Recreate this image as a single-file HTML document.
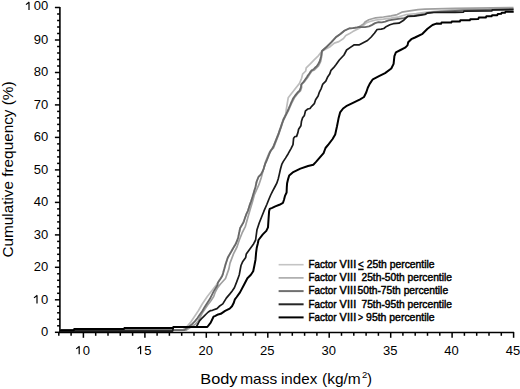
<!DOCTYPE html>
<html><head><meta charset="utf-8"><style>
html,body{margin:0;padding:0;background:#fff;width:520px;height:389px;overflow:hidden}
svg{display:block;font-family:"Liberation Sans",sans-serif}
</style></head><body>
<svg width="520" height="389" viewBox="0 0 520 389">
<g fill="#000">
<line x1="59.9" y1="7" x2="59.9" y2="333" stroke="#000" stroke-width="1.6"/>
<line x1="59" y1="332.5" x2="514" y2="332.5" stroke="#000" stroke-width="1.5"/>
<line x1="54.9" y1="332.3" x2="60" y2="332.3" stroke="#000" stroke-width="1.5"/>
<line x1="57.1" y1="325.8" x2="60" y2="325.8" stroke="#000" stroke-width="1.5"/>
<line x1="57.1" y1="319.3" x2="60" y2="319.3" stroke="#000" stroke-width="1.5"/>
<line x1="57.1" y1="312.8" x2="60" y2="312.8" stroke="#000" stroke-width="1.5"/>
<line x1="57.1" y1="306.3" x2="60" y2="306.3" stroke="#000" stroke-width="1.5"/>
<line x1="54.9" y1="299.8" x2="60" y2="299.8" stroke="#000" stroke-width="1.5"/>
<line x1="57.1" y1="293.3" x2="60" y2="293.3" stroke="#000" stroke-width="1.5"/>
<line x1="57.1" y1="286.8" x2="60" y2="286.8" stroke="#000" stroke-width="1.5"/>
<line x1="57.1" y1="280.3" x2="60" y2="280.3" stroke="#000" stroke-width="1.5"/>
<line x1="57.1" y1="273.8" x2="60" y2="273.8" stroke="#000" stroke-width="1.5"/>
<line x1="54.9" y1="267.3" x2="60" y2="267.3" stroke="#000" stroke-width="1.5"/>
<line x1="57.1" y1="260.8" x2="60" y2="260.8" stroke="#000" stroke-width="1.5"/>
<line x1="57.1" y1="254.3" x2="60" y2="254.3" stroke="#000" stroke-width="1.5"/>
<line x1="57.1" y1="247.9" x2="60" y2="247.9" stroke="#000" stroke-width="1.5"/>
<line x1="57.1" y1="241.4" x2="60" y2="241.4" stroke="#000" stroke-width="1.5"/>
<line x1="54.9" y1="234.9" x2="60" y2="234.9" stroke="#000" stroke-width="1.5"/>
<line x1="57.1" y1="228.4" x2="60" y2="228.4" stroke="#000" stroke-width="1.5"/>
<line x1="57.1" y1="221.9" x2="60" y2="221.9" stroke="#000" stroke-width="1.5"/>
<line x1="57.1" y1="215.4" x2="60" y2="215.4" stroke="#000" stroke-width="1.5"/>
<line x1="57.1" y1="208.9" x2="60" y2="208.9" stroke="#000" stroke-width="1.5"/>
<line x1="54.9" y1="202.4" x2="60" y2="202.4" stroke="#000" stroke-width="1.5"/>
<line x1="57.1" y1="195.9" x2="60" y2="195.9" stroke="#000" stroke-width="1.5"/>
<line x1="57.1" y1="189.4" x2="60" y2="189.4" stroke="#000" stroke-width="1.5"/>
<line x1="57.1" y1="182.9" x2="60" y2="182.9" stroke="#000" stroke-width="1.5"/>
<line x1="57.1" y1="176.4" x2="60" y2="176.4" stroke="#000" stroke-width="1.5"/>
<line x1="54.9" y1="169.9" x2="60" y2="169.9" stroke="#000" stroke-width="1.5"/>
<line x1="57.1" y1="163.4" x2="60" y2="163.4" stroke="#000" stroke-width="1.5"/>
<line x1="57.1" y1="156.9" x2="60" y2="156.9" stroke="#000" stroke-width="1.5"/>
<line x1="57.1" y1="150.4" x2="60" y2="150.4" stroke="#000" stroke-width="1.5"/>
<line x1="57.1" y1="143.9" x2="60" y2="143.9" stroke="#000" stroke-width="1.5"/>
<line x1="54.9" y1="137.4" x2="60" y2="137.4" stroke="#000" stroke-width="1.5"/>
<line x1="57.1" y1="130.9" x2="60" y2="130.9" stroke="#000" stroke-width="1.5"/>
<line x1="57.1" y1="124.4" x2="60" y2="124.4" stroke="#000" stroke-width="1.5"/>
<line x1="57.1" y1="117.9" x2="60" y2="117.9" stroke="#000" stroke-width="1.5"/>
<line x1="57.1" y1="111.4" x2="60" y2="111.4" stroke="#000" stroke-width="1.5"/>
<line x1="54.9" y1="104.9" x2="60" y2="104.9" stroke="#000" stroke-width="1.5"/>
<line x1="57.1" y1="98.4" x2="60" y2="98.4" stroke="#000" stroke-width="1.5"/>
<line x1="57.1" y1="91.9" x2="60" y2="91.9" stroke="#000" stroke-width="1.5"/>
<line x1="57.1" y1="85.5" x2="60" y2="85.5" stroke="#000" stroke-width="1.5"/>
<line x1="57.1" y1="79.0" x2="60" y2="79.0" stroke="#000" stroke-width="1.5"/>
<line x1="54.9" y1="72.5" x2="60" y2="72.5" stroke="#000" stroke-width="1.5"/>
<line x1="57.1" y1="66.0" x2="60" y2="66.0" stroke="#000" stroke-width="1.5"/>
<line x1="57.1" y1="59.5" x2="60" y2="59.5" stroke="#000" stroke-width="1.5"/>
<line x1="57.1" y1="53.0" x2="60" y2="53.0" stroke="#000" stroke-width="1.5"/>
<line x1="57.1" y1="46.5" x2="60" y2="46.5" stroke="#000" stroke-width="1.5"/>
<line x1="54.9" y1="40.0" x2="60" y2="40.0" stroke="#000" stroke-width="1.5"/>
<line x1="57.1" y1="33.5" x2="60" y2="33.5" stroke="#000" stroke-width="1.5"/>
<line x1="57.1" y1="27.0" x2="60" y2="27.0" stroke="#000" stroke-width="1.5"/>
<line x1="57.1" y1="20.5" x2="60" y2="20.5" stroke="#000" stroke-width="1.5"/>
<line x1="57.1" y1="14.0" x2="60" y2="14.0" stroke="#000" stroke-width="1.5"/>
<line x1="54.9" y1="7.5" x2="60" y2="7.5" stroke="#000" stroke-width="1.5"/>
<line x1="58.8" y1="332" x2="58.8" y2="335.8" stroke="#000" stroke-width="1.5"/>
<line x1="71.1" y1="332" x2="71.1" y2="335.8" stroke="#000" stroke-width="1.5"/>
<line x1="83.4" y1="332" x2="83.4" y2="337.8" stroke="#000" stroke-width="1.5"/>
<line x1="95.7" y1="332" x2="95.7" y2="335.8" stroke="#000" stroke-width="1.5"/>
<line x1="108.0" y1="332" x2="108.0" y2="335.8" stroke="#000" stroke-width="1.5"/>
<line x1="120.3" y1="332" x2="120.3" y2="335.8" stroke="#000" stroke-width="1.5"/>
<line x1="132.6" y1="332" x2="132.6" y2="335.8" stroke="#000" stroke-width="1.5"/>
<line x1="144.9" y1="332" x2="144.9" y2="337.8" stroke="#000" stroke-width="1.5"/>
<line x1="157.1" y1="332" x2="157.1" y2="335.8" stroke="#000" stroke-width="1.5"/>
<line x1="169.4" y1="332" x2="169.4" y2="335.8" stroke="#000" stroke-width="1.5"/>
<line x1="181.7" y1="332" x2="181.7" y2="335.8" stroke="#000" stroke-width="1.5"/>
<line x1="194.0" y1="332" x2="194.0" y2="335.8" stroke="#000" stroke-width="1.5"/>
<line x1="206.3" y1="332" x2="206.3" y2="337.8" stroke="#000" stroke-width="1.5"/>
<line x1="218.6" y1="332" x2="218.6" y2="335.8" stroke="#000" stroke-width="1.5"/>
<line x1="230.9" y1="332" x2="230.9" y2="335.8" stroke="#000" stroke-width="1.5"/>
<line x1="243.2" y1="332" x2="243.2" y2="335.8" stroke="#000" stroke-width="1.5"/>
<line x1="255.5" y1="332" x2="255.5" y2="335.8" stroke="#000" stroke-width="1.5"/>
<line x1="267.8" y1="332" x2="267.8" y2="337.8" stroke="#000" stroke-width="1.5"/>
<line x1="280.0" y1="332" x2="280.0" y2="335.8" stroke="#000" stroke-width="1.5"/>
<line x1="292.3" y1="332" x2="292.3" y2="335.8" stroke="#000" stroke-width="1.5"/>
<line x1="304.6" y1="332" x2="304.6" y2="335.8" stroke="#000" stroke-width="1.5"/>
<line x1="316.9" y1="332" x2="316.9" y2="335.8" stroke="#000" stroke-width="1.5"/>
<line x1="329.2" y1="332" x2="329.2" y2="337.8" stroke="#000" stroke-width="1.5"/>
<line x1="341.5" y1="332" x2="341.5" y2="335.8" stroke="#000" stroke-width="1.5"/>
<line x1="353.8" y1="332" x2="353.8" y2="335.8" stroke="#000" stroke-width="1.5"/>
<line x1="366.1" y1="332" x2="366.1" y2="335.8" stroke="#000" stroke-width="1.5"/>
<line x1="378.4" y1="332" x2="378.4" y2="335.8" stroke="#000" stroke-width="1.5"/>
<line x1="390.7" y1="332" x2="390.7" y2="337.8" stroke="#000" stroke-width="1.5"/>
<line x1="402.9" y1="332" x2="402.9" y2="335.8" stroke="#000" stroke-width="1.5"/>
<line x1="415.2" y1="332" x2="415.2" y2="335.8" stroke="#000" stroke-width="1.5"/>
<line x1="427.5" y1="332" x2="427.5" y2="335.8" stroke="#000" stroke-width="1.5"/>
<line x1="439.8" y1="332" x2="439.8" y2="335.8" stroke="#000" stroke-width="1.5"/>
<line x1="452.1" y1="332" x2="452.1" y2="337.8" stroke="#000" stroke-width="1.5"/>
<line x1="464.4" y1="332" x2="464.4" y2="335.8" stroke="#000" stroke-width="1.5"/>
<line x1="476.7" y1="332" x2="476.7" y2="335.8" stroke="#000" stroke-width="1.5"/>
<line x1="489.0" y1="332" x2="489.0" y2="335.8" stroke="#000" stroke-width="1.5"/>
<line x1="501.3" y1="332" x2="501.3" y2="335.8" stroke="#000" stroke-width="1.5"/>
<line x1="513.6" y1="332" x2="513.6" y2="337.8" stroke="#000" stroke-width="1.5"/>
<text x="48.3" y="336.1" text-anchor="end" font-size="13">0</text>
<text x="48.3" y="303.6" text-anchor="end" font-size="13">0</text>
<text x="48.3" y="271.1" text-anchor="end" font-size="13">20</text>
<text x="48.3" y="238.7" text-anchor="end" font-size="13">30</text>
<text x="48.3" y="206.2" text-anchor="end" font-size="13">40</text>
<text x="48.3" y="173.7" text-anchor="end" font-size="13">50</text>
<text x="48.3" y="141.2" text-anchor="end" font-size="13">60</text>
<text x="48.3" y="108.7" text-anchor="end" font-size="13">70</text>
<text x="48.3" y="76.3" text-anchor="end" font-size="13">80</text>
<text x="48.3" y="43.8" text-anchor="end" font-size="13">90</text>
<text x="48.3" y="9.8" text-anchor="end" font-size="13">00</text>
<text x="90.1" y="354.5" text-anchor="end" font-size="13">0</text>
<text x="151.6" y="354.5" text-anchor="end" font-size="13">5</text>
<text x="205.8" y="354.5" text-anchor="middle" font-size="13">20</text>
<text x="267.2" y="354.5" text-anchor="middle" font-size="13">25</text>
<text x="328.7" y="354.5" text-anchor="middle" font-size="13">30</text>
<text x="390.2" y="354.5" text-anchor="middle" font-size="13">35</text>
<text x="451.6" y="354.5" text-anchor="middle" font-size="13">40</text>
<text x="513.1" y="354.5" text-anchor="middle" font-size="13">45</text>
<path d="M29.0,10.0V1.9M29.3,2.0L26.0,4.6" fill="none" stroke="#000" stroke-width="1.2"/>
<path d="M37.0,303.5V295.2M37.3,295.3L34.0,297.9" fill="none" stroke="#000" stroke-width="1.2"/>
<path d="M79.2,354.2V346.2M79.5,346.3L76.2,348.9" fill="none" stroke="#000" stroke-width="1.2"/>
<path d="M140.6,354.2V346.1M140.9,346.2L137.6,348.8" fill="none" stroke="#000" stroke-width="1.2"/>
</g>
<g font-size="15">
<text x="200.3" y="383.8" textLength="37.2" lengthAdjust="spacingAndGlyphs">Body</text>
<text x="240.2" y="383.8" textLength="37" lengthAdjust="spacingAndGlyphs">mass</text>
<text x="281" y="383.8" textLength="36.2" lengthAdjust="spacingAndGlyphs">index</text>
<text x="322" y="383.8" textLength="38.8" lengthAdjust="spacingAndGlyphs">(kg/m</text>
<text x="362" y="378" font-size="9.5">2</text>
<text x="366.9" y="383.8">)</text>
<text transform="translate(13,257.5) rotate(-90)" textLength="176" lengthAdjust="spacingAndGlyphs">Cumulative frequency (%)</text>
</g>
<g>
<polyline points="60.0,330.2 182.5,330.2 186.7,326.8 190.8,322.1 193.5,318.1 196.2,314.0 198.5,310.5 202.1,304.3 207.3,296.6 212.4,290.1 216.3,285.0 218.5,281.5 222.3,275.5 225.4,264.3 227.7,257.4 232.4,249.3 235.8,243.5 238.0,238.0 240.0,228.0 243.5,222.0 246.0,214.7 247.7,211.2 249.5,205.4 251.2,200.8 253.0,195.0 255.4,187.0 256.6,181.3 258.5,176.6 261.0,174.3 263.4,169.7 265.1,163.9 266.8,160.4 269.3,154.0 270.8,150.5 273.0,147.3 275.6,140.8 278.1,134.4 280.7,126.7 283.3,119.0 285.8,113.9 286.2,110.0 288.2,97.8 291.3,93.7 295.4,88.5 299.5,83.4 301.6,78.2 302.6,74.1 305.7,71.0 306.2,67.9 310.3,63.8 314.4,59.7 318.5,55.6 322.0,51.0 325.0,49.5 329.6,47.0 334.3,43.1 338.9,41.6 343.5,38.5 345.8,35.4 349.7,33.5 352.8,31.6 355.8,30.0 358.9,28.5 362.0,26.5 366.0,23.0 370.0,21.5 375.7,20.0 383.4,19.2 391.0,18.2 398.8,16.8 406.6,14.5 416.2,13.6 425.0,12.3 455.0,9.6 513.5,8.6" fill="none" stroke="#bdbdbd" stroke-width="1.7" stroke-linejoin="round"/>
<polyline points="60.0,330.2 186.0,330.2 195.5,324.1 198.2,321.0 202.1,313.3 207.3,305.6 211.1,300.4 213.7,296.6 215.0,292.7 217.6,287.6 220.5,284.0 225.5,278.5 228.9,268.9 230.0,263.1 233.5,253.9 237.0,247.0 239.3,240.0 242.0,233.2 245.4,226.3 247.7,218.1 250.0,210.0 252.4,202.0 254.3,195.0 258.9,184.7 261.2,177.8 263.0,171.0 265.8,161.0 268.5,154.5 270.0,151.5 273.5,148.0 276.0,141.5 278.5,135.0 281.0,127.5 283.5,120.0 286.0,115.0 288.7,110.0 291.3,103.9 294.4,97.8 297.5,93.7 300.6,90.6 301.6,87.5 301.6,84.4 304.7,81.3 307.8,77.2 309.8,74.1 311.9,71.0 314.4,70.0 318.5,65.8 320.6,61.7 321.6,56.6 322.0,51.0 326.5,47.0 331.2,42.4 335.8,37.3 340.4,34.0 344.3,30.8 349.6,28.3 352.8,28.1 357.4,27.3 359.2,26.8 363.6,23.9 365.0,22.0 368.8,19.8 375.7,17.8 383.4,17.0 391.1,15.8 397.2,14.6 401.8,12.2 408.0,11.2 418.1,9.7 425.0,9.1 455.0,8.3 513.5,7.6" fill="none" stroke="#a0a0a0" stroke-width="1.7" stroke-linejoin="round"/>
<polyline points="60.0,330.2 184.0,330.2 191.4,324.8 194.8,321.4 197.5,318.1 200.2,314.0 202.2,311.3 204.7,306.9 209.8,299.1 213.7,291.4 217.6,285.0 217.8,282.9 218.6,281.6 219.5,280.2 220.4,278.9 221.3,277.5 222.1,276.2 222.7,274.7 223.2,273.1 223.6,271.6 224.0,270.0 224.5,268.5 224.9,266.9 225.3,265.4 225.8,263.8 226.3,262.3 226.8,260.8 227.3,259.3 227.8,257.7 228.6,256.3 229.4,254.9 230.2,253.5 231.0,252.1 231.8,250.7 232.6,249.3 233.4,247.9 234.2,246.5 235.0,245.2 235.8,243.8 236.4,242.3 237.0,240.8 237.6,239.3 238.1,237.8 238.5,236.2 238.8,234.6 239.1,233.0 239.5,231.5 239.8,229.9 240.1,228.3 240.9,226.9 241.7,225.5 242.5,224.1 243.3,222.7 243.9,221.3 244.4,219.7 244.9,218.2 245.5,216.7 246.0,215.2 246.6,213.7 247.3,212.2 247.9,210.8 248.4,209.2 248.9,207.7 249.4,206.1 249.9,204.6 250.4,203.1 251.0,201.6 251.5,200.1 252.0,198.5 252.5,197.0 252.9,195.5 253.4,193.9 253.9,192.4 254.3,190.8 254.8,189.3 255.3,187.8 255.7,186.2 256.0,184.6 256.4,183.1 256.7,181.5 257.3,180.0 257.9,178.5 258.5,177.0 259.5,175.8 260.7,174.7 261.5,173.4 262.3,171.9 263.0,170.5 263.6,169.0 264.0,167.5 264.5,165.9 265.0,164.4 265.6,162.9 266.3,161.5 266.9,160.0 267.5,158.5 268.1,157.0 268.7,155.5 269.3,154.0 269.9,152.5 270.6,151.0 271.4,149.7 272.3,148.4 273.2,147.0 273.8,145.6 274.4,144.1 275.0,142.6 275.6,141.1 276.2,139.6 276.8,138.1 277.4,136.6 278.0,135.2 278.6,133.7 279.1,132.1 279.6,130.6 280.1,129.1 280.7,127.6 281.2,126.1 281.7,124.5 282.2,123.0 282.8,121.5 283.3,120.0 284.0,118.5 284.7,117.1 285.4,115.6 286.2,114.2 286.8,112.7 287.5,111.3 288.1,109.8 288.8,108.3 289.4,106.9 290.1,105.4 290.7,103.9 291.3,102.4 292.0,100.9 292.6,99.5 293.4,98.0 294.3,96.7 295.3,95.4 296.3,94.1 297.3,92.9 298.4,91.7 299.6,90.6 300.2,89.1 300.8,87.6 301.1,86.1 301.2,84.5 302.2,83.3 303.3,82.1 304.3,80.9 305.2,79.5 306.1,78.2 307.0,76.9 307.8,75.5 308.8,74.2 309.7,72.9 310.6,71.5 311.6,70.4 313.0,69.7 314.2,68.6 315.3,67.5 316.5,66.3 317.6,65.1 318.4,63.7 319.2,62.3 319.8,60.9 320.3,59.4 320.7,57.8 321.1,56.3 321.4,54.8 321.6,53.2 322.0,51.0 326.5,47.0 331.2,42.4 335.8,37.3 340.4,34.0 344.3,30.8 349.6,28.3 352.8,28.1 357.4,27.3 359.2,26.8 362.0,27.2 365.0,27.1 369.0,26.4 371.7,25.1 375.1,23.1 378.5,22.1 381.8,22.4 385.2,21.7 388.6,20.4 393.3,19.7 400.0,18.7 404.0,18.2 406.6,17.2 407.8,16.1 414.3,15.6 420.7,14.7 425.0,13.8 427.5,12.8 433.8,12.2 455.0,11.0 463.0,10.5 513.5,9.2" fill="none" stroke="#686868" stroke-width="1.8" stroke-linejoin="round"/>
<polyline points="60.0,331.2 172.6,331.2 173.4,327.0 196.2,327.0 198.2,323.5 199.5,320.8 201.5,318.7 203.6,316.7 206.2,314.0 208.3,312.0 210.3,310.7 212.4,310.3 217.0,308.6 219.3,306.3 222.8,303.9 226.3,298.1 229.7,294.1 232.0,291.2 234.4,287.7 236.7,281.9 238.5,277.0 239.3,274.7 241.0,265.5 242.8,261.4 245.7,257.4 246.3,253.9 249.7,249.3 253.2,244.6 255.6,240.0 257.0,229.7 259.3,222.8 261.6,217.0 263.9,211.2 266.8,204.5 268.8,199.5 270.7,195.0 272.6,191.1 274.8,187.0 276.7,183.4 278.2,179.0 279.3,174.4 280.5,169.0 281.9,164.1 283.2,161.6 285.5,158.1 288.2,153.7 291.0,148.6 293.0,144.7 293.6,138.3 295.0,136.5 296.6,136.4 297.9,132.6 298.6,129.3 300.9,125.8 301.5,121.2 302.6,117.7 304.4,115.4 305.5,110.8 307.8,109.0 310.0,108.5 311.7,106.3 314.3,103.7 315.6,99.8 318.1,96.0 319.4,92.1 321.3,88.3 322.6,84.4 325.8,81.2 327.8,76.7 329.7,74.1 331.0,70.3 333.6,67.7 336.1,64.5 339.3,60.0 344.0,55.0 346.6,50.0 350.4,47.4 354.3,44.8 359.4,44.8 367.5,40.5 371.2,37.0 374.4,33.2 377.1,29.5 381.2,29.1 383.8,28.5 386.5,26.4 389.9,24.8 393.3,23.7 399.0,23.2 403.3,20.6 406.6,17.4 407.8,16.5 414.3,16.1 420.7,15.2 425.0,14.5 427.5,13.1 433.8,12.5 455.0,12.3 463.5,12.2 464.0,11.1 491.8,11.0 492.3,9.8 513.5,9.6" fill="none" stroke="#1a1a1a" stroke-width="1.7" stroke-linejoin="round"/>
<polyline points="60.0,330.2 73.8,330.2 74.2,329.0 124.0,329.0 124.4,328.0 173.0,328.0 173.4,327.0 207.3,327.0 210.7,322.6 213.5,316.7 215.4,315.9 218.1,314.4 220.8,313.8 225.1,310.9 229.7,308.6 232.0,306.3 233.8,302.8 234.9,299.3 236.7,297.0 240.0,292.4 243.9,285.0 247.4,278.2 250.9,274.7 253.2,271.3 254.4,265.5 255.5,259.7 256.1,252.7 256.7,248.1 257.8,243.5 258.5,240.0 262.8,234.4 266.3,230.9 268.0,227.4 268.6,218.1 269.1,211.2 269.7,208.9 272.2,207.9 275.3,206.4 279.4,204.8 283.0,202.8 284.0,199.7 285.1,195.6 286.6,192.5 286.8,187.3 287.1,183.2 288.1,179.1 289.2,175.5 292.7,172.4 300.4,168.6 308.1,166.0 313.3,164.7 315.8,162.1 319.7,157.6 323.6,153.1 325.5,148.0 328.7,144.1 332.6,139.0 335.2,134.5 337.0,126.3 338.5,118.6 340.1,112.4 343.1,108.5 346.2,106.2 354.0,102.4 360.1,99.3 364.0,97.0 366.3,92.3 367.8,87.7 369.7,83.9 372.8,79.3 379.0,76.2 385.1,73.1 391.3,68.5 393.6,63.9 394.4,56.2 395.9,52.3 400.5,50.0 405.1,47.7 407.5,45.4 408.2,42.3 411.3,39.2 415.0,37.5 422.5,33.8 427.5,28.8 432.5,25.0 436.3,23.6 441.0,23.8 441.5,22.6 451.3,22.6 451.8,21.5 459.8,21.5 460.3,20.3 469.8,20.3 470.3,19.2 478.3,19.0 478.8,17.6 485.8,17.5 486.3,16.3 491.6,16.3 492.1,15.2 497.3,15.2 497.8,13.9 501.2,13.8 501.7,12.8 505.0,12.7 505.5,11.8 513.7,11.8" fill="none" stroke="#000" stroke-width="2.0" stroke-linejoin="round"/>
</g>
<g fill="#000" font-size="10.5" font-weight="normal" stroke="#000" stroke-width="0.45">
<line x1="278.6" y1="264.7" x2="303.6" y2="264.7" stroke="#c4c4c4" stroke-width="1.6"/>
<text x="308.6" y="268.0" textLength="27.9" lengthAdjust="spacingAndGlyphs">Factor</text>
<text x="339.6" y="268.0" textLength="7.3" lengthAdjust="spacingAndGlyphs">V</text>
<text x="347.1" y="268.0" textLength="9.1" lengthAdjust="spacingAndGlyphs">III</text>
<text x="358.0" y="268.0" textLength="5.7" lengthAdjust="spacingAndGlyphs"><</text>
<text x="366.7" y="268.0" textLength="67.9" lengthAdjust="spacingAndGlyphs">25th percentile</text>
<line x1="278.6" y1="277.9" x2="303.6" y2="277.9" stroke="#a8a8a8" stroke-width="1.6"/>
<text x="308.6" y="281.2" textLength="27.9" lengthAdjust="spacingAndGlyphs">Factor</text>
<text x="339.6" y="281.2" textLength="7.3" lengthAdjust="spacingAndGlyphs">V</text>
<text x="347.1" y="281.2" textLength="9.1" lengthAdjust="spacingAndGlyphs">III</text>
<text x="361.5" y="281.2" textLength="90.4" lengthAdjust="spacingAndGlyphs">25th-50th percentile</text>
<line x1="278.6" y1="291.1" x2="303.6" y2="291.1" stroke="#707070" stroke-width="2.0"/>
<text x="308.6" y="294.4" textLength="27.9" lengthAdjust="spacingAndGlyphs">Factor</text>
<text x="339.6" y="294.4" textLength="7.3" lengthAdjust="spacingAndGlyphs">V</text>
<text x="347.1" y="294.4" textLength="9.1" lengthAdjust="spacingAndGlyphs">III</text>
<text x="357.5" y="294.4" textLength="90.6" lengthAdjust="spacingAndGlyphs">50th-75th percentile</text>
<line x1="278.6" y1="304.3" x2="303.6" y2="304.3" stroke="#262626" stroke-width="2.0"/>
<text x="308.6" y="307.6" textLength="27.9" lengthAdjust="spacingAndGlyphs">Factor</text>
<text x="339.6" y="307.6" textLength="7.3" lengthAdjust="spacingAndGlyphs">V</text>
<text x="347.1" y="307.6" textLength="9.1" lengthAdjust="spacingAndGlyphs">III</text>
<text x="361.5" y="307.6" textLength="90.4" lengthAdjust="spacingAndGlyphs">75th-95th percentile</text>
<line x1="278.6" y1="317.4" x2="303.6" y2="317.4" stroke="#000" stroke-width="2.0"/>
<text x="308.6" y="320.7" textLength="27.9" lengthAdjust="spacingAndGlyphs">Factor</text>
<text x="339.6" y="320.7" textLength="7.3" lengthAdjust="spacingAndGlyphs">V</text>
<text x="347.1" y="320.7" textLength="9.1" lengthAdjust="spacingAndGlyphs">III</text>
<text x="358.0" y="320.7" textLength="5.1" lengthAdjust="spacingAndGlyphs">&gt;</text>
<text x="366.1" y="320.7" textLength="68.5" lengthAdjust="spacingAndGlyphs">95th percentile</text>
<rect x="358.6" y="268.9" width="4.8" height="1.1"/>
</g>
</svg>
</body></html>
